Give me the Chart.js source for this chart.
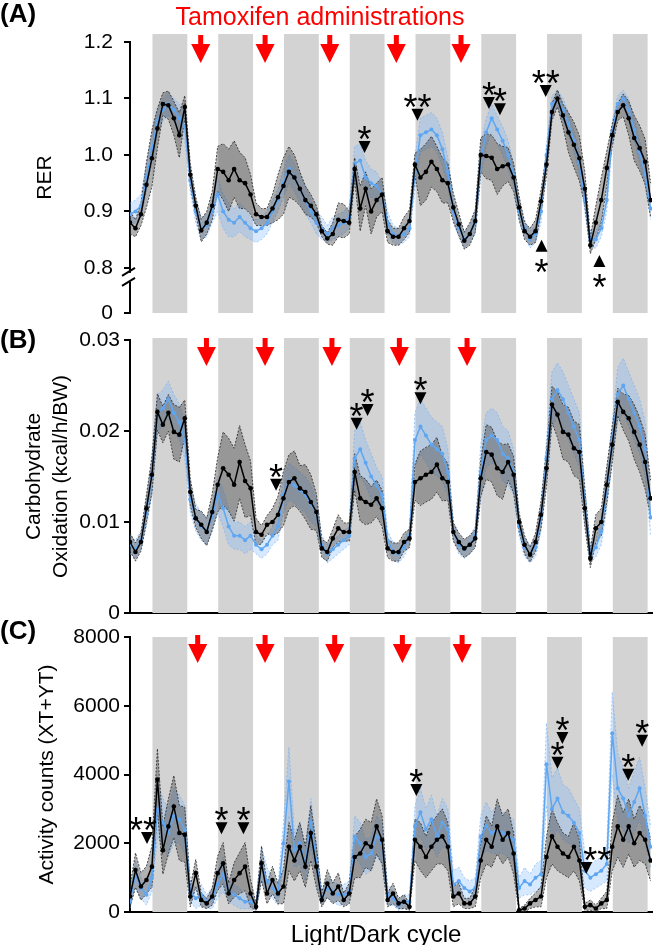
<!DOCTYPE html>
<html lang="en">

<head>
	<meta charset="UTF-8">
	<title>RER, carbohydrate oxidation and activity over light/dark cycles</title>
	<style>
		body {
			margin: 0;
			background: #fff;
		}

		.wrap {
			position: relative;
			width: 656px;
			height: 945px;
		}

		canvas {
			position: absolute;
			left: 0;
		}
	</style>
</head>

<body>
	<div class="wrap">
		<canvas id="chartA" width="656" height="341" style="top:0"></canvas>
		<canvas id="chartB" width="656" height="313" style="top:320px"></canvas>
		<canvas id="chartC" width="656" height="330" style="top:615px"></canvas>
	</div>
	<script src="https://cdn.jsdelivr.net/npm/chart.js"></script>
	<script>
		// time axis (hours from start of recording)
		const hours = [0, 2, 4, 6, 8, 10, 12, 14, 16, 18, 20, 22, 24, 26, 28, 30, 32, 34, 36, 38, 40, 42, 44, 46,
			48, 50, 52, 54, 56, 58, 60, 62, 64, 66, 68, 70, 72, 74, 76, 78, 80, 82, 84, 86, 88, 90, 92, 94,
			96, 98, 100, 102, 104, 106, 108, 110, 112, 114, 116, 118, 120, 122, 124, 126, 128, 130, 132, 134, 136, 138, 140, 142,
			144, 146, 148, 150, 152, 154, 156, 158, 160, 162, 164, 166, 168, 170, 172, 174, 176, 178, 180, 182, 184, 186, 188, 190];
		const darkStarts = [8.2, 32.2, 56.2, 80.2, 104.2, 128.2, 152.2, 176.2];
		const darkLength = 12.7;

		// (A) RER
		const rerBlack = [0.88, 0.87, 0.895, 0.947, 0.994, 1.047, 1.09, 1.088, 1.065, 1.035, 1.085, 0.965,
			0.91, 0.866, 0.88, 0.91, 0.975, 0.97, 0.955, 0.975, 0.955, 0.95, 0.93, 0.895,
			0.89, 0.89, 0.905, 0.925, 0.945, 0.97, 0.96, 0.94, 0.92, 0.91, 0.895, 0.865,
			0.852, 0.86, 0.885, 0.883, 0.88, 0.975, 0.905, 0.94, 0.9, 0.92, 0.93, 0.865,
			0.855, 0.855, 0.87, 0.883, 0.983, 0.96, 0.97, 0.988, 0.975, 0.955, 0.95, 0.907,
			0.877, 0.848, 0.86, 0.883, 1.0, 0.998, 0.995, 0.975, 0.98, 0.983, 0.96, 0.907,
			0.865, 0.855, 0.865, 0.918, 0.983, 1.076, 1.1, 1.07, 1.04, 1.018, 0.994, 0.94,
			0.84, 0.88, 0.92, 0.977, 1.035, 1.076, 1.088, 1.065, 1.03, 1.012, 0.988, 0.92];
		const rerBlackSem = [.02, .015, .02, .04, .05, .035, .02, .025, .03, .04, .02, .02,
			.015, .02, .02, .025, .04, .05, .055, .05, .05, .045, .035, .02,
			.015, .015, .025, .04, .05, .045, .04, .03, .025, .02, .015, .01,
			.01, .02, .03, .03, .02, .02, .04, .03, .04, .03, .03, .02,
			.015, .015, .02, .02, .02, .05, .05, .045, .04, .04, .035, .025,
			.02, .015, .02, .02, .03, .04, .04, .045, .035, .03, .025, .02,
			.015, .015, .02, .02, .02, .015, .015, .02, .035, .04, .04, .03,
			.015, .03, .04, .03, .02, .015, .02, .03, .04, .04, .04, .03];
		const rerBlue = [0.895, 0.9, 0.91, 0.96, 1.01, 1.06, 1.08, 1.09, 1.08, 1.065, 1.05, 0.955,
			0.9, 0.87, 0.875, 0.9, 0.93, 0.9, 0.885, 0.88, 0.89, 0.88, 0.87, 0.865,
			0.87, 0.88, 0.9, 0.92, 0.95, 0.975, 0.96, 0.94, 0.92, 0.9, 0.88, 0.87,
			0.86, 0.87, 0.875, 0.88, 0.89, 0.985, 0.99, 0.96, 0.95, 0.945, 0.93, 0.88,
			0.86, 0.855, 0.86, 0.87, 0.97, 1.035, 1.04, 1.045, 1.035, 1.01, 0.97, 0.9,
			0.87, 0.85, 0.86, 0.88, 0.99, 1.04, 1.065, 1.045, 1.025, 1.0, 0.965, 0.9,
			0.87, 0.85, 0.86, 0.9, 1.0, 1.09, 1.1, 1.08, 1.055, 1.025, 0.985, 0.92,
			0.85, 0.85, 0.87, 0.92, 1.04, 1.09, 1.1, 1.08, 1.045, 1.005, 0.965, 0.905];
		const rerBlueSem = [.02, .02, .02, .025, .025, .02, .02, .02, .02, .025, .025, .02,
			.02, .02, .02, .02, .03, .03, .03, .025, .025, .025, .02, .02,
			.02, .02, .02, .02, .025, .025, .025, .025, .025, .02, .02, .02,
			.015, .02, .02, .02, .02, .03, .03, .03, .025, .025, .02, .02,
			.015, .015, .015, .015, .03, .03, .03, .03, .03, .03, .025, .02,
			.015, .015, .015, .02, .03, .025, .025, .025, .025, .025, .02, .02,
			.015, .015, .015, .02, .02, .015, .015, .02, .02, .02, .02, .02,
			.015, .015, .015, .02, .02, .015, .015, .02, .02, .02, .02, .02];
		const rerTicks = [0.72, 0.8, 0.9, 1.0, 1.1, 1.2];

		// (B) carbohydrate oxidation
		const choBlack = [0.0078, 0.0067, 0.0078, 0.0115, 0.0152, 0.0221, 0.0207, 0.022, 0.0199, 0.0196, 0.0214, 0.0133,
			0.0104, 0.0097, 0.0089, 0.0111, 0.0141, 0.0159, 0.0152, 0.0141, 0.0166, 0.0145, 0.0137, 0.0089,
			0.0086, 0.0097, 0.01, 0.0108, 0.0126, 0.0144, 0.0148, 0.0137, 0.0133, 0.0122, 0.0111, 0.0071,
			0.0067, 0.0082, 0.0093, 0.0089, 0.0089, 0.0155, 0.0126, 0.0122, 0.0119, 0.0126, 0.0115, 0.0071,
			0.0067, 0.0067, 0.0078, 0.0082, 0.0144, 0.0148, 0.0152, 0.0155, 0.0163, 0.0148, 0.0144, 0.0089,
			0.0078, 0.0071, 0.0075, 0.0082, 0.0148, 0.0177, 0.0174, 0.0159, 0.0155, 0.0166, 0.0152, 0.01,
			0.0075, 0.0064, 0.0078, 0.0108, 0.0159, 0.0229, 0.0218, 0.0199, 0.0196, 0.0181, 0.0177, 0.0115,
			0.006, 0.0093, 0.01, 0.0141, 0.0185, 0.0232, 0.0221, 0.0214, 0.0199, 0.0185, 0.0166, 0.0126];
		const choBlackSem = [.001, .001, .001, .0015, .002, .002, .002, .002, .003, .003, .002, .0015,
			.001, .0015, .0015, .002, .003, .004, .004, .004, .004, .004, .003, .0015,
			.001, .001, .0015, .002, .003, .003, .003, .0025, .003, .003, .002, .001,
			.001, .001, .0015, .001, .001, .002, .0025, .0025, .002, .002, .002, .001,
			.001, .001, .001, .001, .002, .003, .003, .003, .003, .0025, .002, .001,
			.001, .001, .001, .001, .002, .003, .003, .003, .003, .002, .002, .001,
			.001, .0008, .001, .0015, .002, .002, .0025, .003, .003, .003, .003, .002,
			.001, .0015, .0015, .002, .002, .0015, .002, .0025, .003, .003, .003, .002];
		const choBlue = [0.0075, 0.007, 0.008, 0.011, 0.015, 0.022, 0.0225, 0.0235, 0.022, 0.021, 0.019, 0.0125,
			0.0105, 0.0095, 0.009, 0.0105, 0.013, 0.0115, 0.0095, 0.0085, 0.0085, 0.008, 0.0085, 0.0075,
			0.007, 0.0075, 0.0085, 0.0095, 0.013, 0.0145, 0.014, 0.0135, 0.013, 0.012, 0.011, 0.0075,
			0.0065, 0.007, 0.0075, 0.008, 0.0085, 0.017, 0.018, 0.0165, 0.015, 0.014, 0.013, 0.008,
			0.0068, 0.0065, 0.0072, 0.0085, 0.019, 0.0205, 0.0195, 0.0185, 0.018, 0.0175, 0.0155, 0.009,
			0.0075, 0.007, 0.0075, 0.0085, 0.0155, 0.019, 0.0195, 0.019, 0.0175, 0.017, 0.0155, 0.0095,
			0.0072, 0.0065, 0.0072, 0.0105, 0.017, 0.0235, 0.0245, 0.0235, 0.022, 0.0205, 0.019, 0.012,
			0.0065, 0.0072, 0.009, 0.0135, 0.019, 0.024, 0.025, 0.0235, 0.022, 0.0205, 0.018, 0.0105];
		const choBlueSem = [.001, .001, .001, .0015, .002, .002, .002, .002, .002, .002, .002, .0015,
			.0015, .0015, .0015, .0015, .002, .002, .002, .0015, .0015, .0015, .0015, .001,
			.001, .001, .001, .0015, .002, .002, .002, .002, .002, .002, .0015, .001,
			.001, .001, .001, .001, .001, .003, .003, .0025, .0025, .002, .002, .001,
			.001, .001, .001, .001, .003, .003, .003, .003, .003, .003, .0025, .001,
			.001, .001, .001, .001, .003, .003, .003, .003, .003, .003, .0025, .001,
			.001, .001, .001, .0015, .002, .003, .003, .003, .003, .003, .003, .002,
			.001, .001, .0015, .002, .002, .003, .003, .003, .003, .003, .003, .002];

		// (C) activity counts
		const actBlack = [450, 1220, 740, 930, 1320, 3850, 1800, 2490, 3070, 2300, 2250, 450,
			1130, 350, 250, 450, 1130, 1420, 540, 930, 1130, 1320, 540, 150,
			1420, 540, 930, 540, 740, 1900, 1500, 1900, 1320, 2300, 1320, 350,
			830, 540, 740, 350, 540, 1600, 1700, 2000, 1900, 2490, 2100, 350,
			540, 250, 300, 150, 2100, 1900, 1600, 1900, 2100, 2200, 1900, 450,
			540, 250, 250, 450, 1500, 2100, 1900, 2490, 2100, 2300, 1700, 50,
			100, 250, 350, 450, 1600, 2200, 1900, 1700, 1600, 1900, 1500, 150,
			200, 100, 250, 350, 1900, 2490, 2100, 2490, 2000, 2300, 2100, 1500];
		const actBlackSem = [300, 500, 400, 400, 600, 900, 700, 800, 900, 800, 800, 300,
			400, 200, 150, 250, 500, 600, 300, 500, 600, 700, 400, 100,
			500, 300, 400, 300, 500, 700, 600, 700, 600, 800, 600, 200,
			400, 300, 400, 200, 300, 600, 700, 700, 700, 800, 700, 200,
			300, 150, 200, 100, 600, 700, 600, 700, 700, 800, 700, 300,
			300, 150, 150, 300, 500, 700, 600, 800, 700, 700, 600, 50,
			100, 150, 200, 300, 600, 800, 700, 600, 600, 700, 600, 100,
			150, 100, 150, 250, 700, 900, 800, 800, 700, 800, 700, 600];
		const actBlue = [300, 1100, 700, 500, 1000, 3000, 2600, 2300, 2800, 2700, 2400, 600,
			400, 500, 300, 400, 800, 1100, 600, 500, 400, 300, 300, 200,
			1400, 900, 700, 500, 2000, 3800, 1800, 2000, 1400, 2600, 1500, 400,
			700, 600, 500, 500, 600, 2200, 2000, 1600, 1700, 2200, 2000, 500,
			400, 200, 300, 300, 2500, 2900, 2400, 2700, 2200, 2600, 2400, 800,
			900, 700, 600, 700, 2200, 2500, 2300, 2400, 2300, 2200, 2100, 700,
			900, 800, 1000, 1100, 4300, 3000, 3300, 2900, 2800, 2600, 2300, 1200,
			1000, 1100, 1200, 1400, 5200, 3600, 3300, 2800, 3200, 3600, 2800, 1900];
		const actBlueSem = [200, 400, 300, 300, 400, 800, 700, 700, 800, 700, 700, 300,
			300, 300, 200, 300, 400, 500, 300, 300, 300, 200, 200, 150,
			500, 400, 300, 300, 600, 1000, 500, 600, 500, 700, 500, 200,
			300, 300, 300, 300, 300, 600, 600, 500, 500, 600, 600, 300,
			200, 150, 200, 200, 600, 700, 600, 700, 600, 700, 600, 400,
			400, 300, 300, 300, 600, 700, 600, 700, 600, 600, 600, 300,
			400, 300, 400, 400, 1200, 900, 900, 800, 800, 700, 700, 500,
			400, 400, 400, 500, 1200, 1000, 900, 800, 900, 900, 800, 600];

		// tamoxifen arrows (hours) and significance marks (hour, value)
		const arrowsA = [25.8, 49.3, 72.9, 97.2, 120.8];
		const arrowsB = [27.9, 49.3, 73.7, 98.3, 123];
		const arrowsC = [24.7, 49.3, 74.7, 99.4, 121.2];
		const marksA = [
			{ h: 85.6, v: 1.014, dir: 'down', txt: '*' },
			{ h: 104.9, v: 1.071, dir: 'down', txt: '**' },
			{ h: 131.0, v: 1.092, dir: 'down', txt: '*' },
			{ h: 135.0, v: 1.081, dir: 'down', txt: '*' },
			{ h: 151.7, v: 1.113, dir: 'down', txt: '**' },
			{ h: 150.2, v: 0.839, dir: 'up', txt: '*' },
			{ h: 171.3, v: 0.812, dir: 'up', txt: '*' }
		];
		const marksB = [
			{ h: 53.3, v: 0.0141, dir: 'down', txt: '*' },
			{ h: 82.7, v: 0.0208, dir: 'down', txt: '*' },
			{ h: 86.7, v: 0.0223, dir: 'down', txt: '*' },
			{ h: 106.0, v: 0.0236, dir: 'down', txt: '*' }
		];
		const marksC = [
			{ h: 6.2, v: 2150, dir: 'down', txt: '**', shift: -4 },
			{ h: 33.4, v: 2440, dir: 'down', txt: '*' },
			{ h: 41.4, v: 2440, dir: 'down', txt: '*' },
			{ h: 104.5, v: 3550, dir: 'down', txt: '*' },
			{ h: 157.8, v: 5060, dir: 'down', txt: '*' },
			{ h: 156.0, v: 4340, dir: 'down', txt: '*' },
			{ h: 166.5, v: 1280, dir: 'down', txt: '**', shift: 11 },
			{ h: 181.8, v: 3990, dir: 'down', txt: '*' },
			{ h: 186.9, v: 4980, dir: 'down', txt: '*' }
		];

		const FONT = '"Liberation Sans", Arial, sans-serif';
		Chart.defaults.font.family = FONT;
		Chart.defaults.color = '#000';

		// per-canvas decoration settings (kept outside the chart options on purpose)
		const decorCfg = {
			chartA: { bandRise: 8, arrowTop: -7, arrows: arrowsA, marks: marksA, letter: '(A)', letterY: 15, heading: 'Tamoxifen administrations', breakAt: 0.784 },
			chartB: { bandRise: 2, arrowTop: -2, arrows: arrowsB, marks: marksB, letter: '(B)', letterY: 21 },
			chartC: { bandRise: 0, arrowTop: -2, arrows: arrowsC, marks: marksC, letter: '(C)', letterY: 17, xLabel: 'Light/Dark cycle' }
		};

		const decor = {
			id: 'decor',
			beforeDatasetsDraw(chart) {
				const o = decorCfg[chart.canvas.id];
				const { ctx, chartArea: a, scales: { x } } = chart;
				ctx.save();
				ctx.fillStyle = '#d3d3d3';
				darkStarts.forEach(s => {
					const x0 = x.getPixelForValue(s);
					const x1 = x.getPixelForValue(s + darkLength);
					ctx.fillRect(x0, a.top - o.bandRise, x1 - x0, a.bottom - a.top + o.bandRise);
				});
				ctx.restore();
			},
			afterDraw(chart) {
				const o = decorCfg[chart.canvas.id];
				const { ctx, chartArea: a, scales: { x, y } } = chart;
				ctx.save();

				if (o.breakAt) {
					const by = y.getPixelForValue(o.breakAt);
					ctx.fillStyle = '#fff';
					ctx.fillRect(a.left - 5, by - 4, 9, 9);
					ctx.strokeStyle = '#000';
					ctx.lineWidth = 2;
					ctx.beginPath();
					ctx.moveTo(a.left - 8, by - 1); ctx.lineTo(a.left + 5, by - 9);
					ctx.moveTo(a.left - 8, by + 9); ctx.lineTo(a.left + 5, by + 1);
					ctx.stroke();
				}

				ctx.fillStyle = '#ff0000';
				o.arrows.forEach(h => {
					const px = x.getPixelForValue(h);
					const t = a.top + o.arrowTop;
					ctx.fillRect(px - 2.5, t, 5, 10);
					ctx.beginPath();
					ctx.moveTo(px - 9.5, t + 9);
					ctx.lineTo(px + 9.5, t + 9);
					ctx.lineTo(px, t + 28);
					ctx.closePath();
					ctx.fill();
				});

				ctx.fillStyle = '#000';
				ctx.font = '36px ' + FONT;
				ctx.textAlign = 'center';
				ctx.textBaseline = 'alphabetic';
				o.marks.forEach(m => {
					const px = x.getPixelForValue(m.h);
					const py = y.getPixelForValue(m.v);
					ctx.beginPath();
					if (m.dir === 'down') {
						ctx.moveTo(px - 6, py - 6); ctx.lineTo(px + 6, py - 6); ctx.lineTo(px, py + 6);
					} else {
						ctx.moveTo(px - 6, py + 6); ctx.lineTo(px + 6, py + 6); ctx.lineTo(px, py - 6);
					}
					ctx.closePath();
					ctx.fill();
					// centre the asterisk glyph on the wanted point
					const mt = ctx.measureText(m.txt);
					const cy = m.dir === 'down' ? py - 14 : py + 20;
					const base = cy + (mt.actualBoundingBoxAscent - mt.actualBoundingBoxDescent) / 2;
					ctx.fillText(m.txt, px + (m.shift || 0), base);
				});

				ctx.textAlign = 'left';
				ctx.textBaseline = 'middle';
				ctx.font = 'bold 26px ' + FONT;
				ctx.fillText(o.letter, 0, o.letterY);

				if (o.heading) {
					ctx.fillStyle = '#ff0000';
					ctx.font = '25px ' + FONT;
					ctx.textAlign = 'center';
					ctx.fillText(o.heading, 320, 18);
				}
				if (o.xLabel) {
					ctx.fillStyle = '#000';
					ctx.font = '24px ' + FONT;
					ctx.textAlign = 'center';
					ctx.textBaseline = 'alphabetic';
					ctx.fillText(o.xLabel, 376, a.bottom + 30);
				}
				ctx.restore();
			}
		};

		function seriesSets(mean, sem, floor) {
			const pts = arr => arr.map((v, i) => ({ x: hours[i], y: v }));
			const up = mean.map((v, i) => v + sem[i]);
			const lo = mean.map((v, i) => Math.max(floor, v - sem[i]));
			return { mean: pts(mean), up: pts(up), lo: pts(lo) };
		}

		function makeChart(id, black, blue, yScale, pad, showX) {
			const edge = (data, color, dash, order, fillColor) => ({
				data, borderColor: color, borderWidth: 0.8, borderDash: dash, pointRadius: 0,
				fill: fillColor ? '+1' : false, backgroundColor: fillColor || 'transparent', order, tension: 0
			});
			const datasets = [
				edge(blue.up, 'rgba(110,170,240,0.75)', [2, 2], 5, 'rgba(110,175,250,0.28)'),
				edge(blue.lo, 'rgba(110,170,240,0.75)', [2, 2], 5),
				edge(black.up, '#222', [2, 1.5], 4, 'rgba(70,70,70,0.42)'),
				edge(black.lo, '#222', [2, 1.5], 4),
				{
					data: blue.mean, borderColor: '#5ea6f2', borderWidth: 1.5, pointRadius: 2,
					pointBackgroundColor: '#5ea6f2', pointBorderWidth: 0, order: 2, tension: 0, fill: false
				},
				{
					data: black.mean, borderColor: '#000', borderWidth: 1.5, pointRadius: 2.3,
					pointBackgroundColor: '#000', pointBorderWidth: 0, order: 1, tension: 0, fill: false
				}
			];
			return new Chart(document.getElementById(id), {
				type: 'line',
				data: { datasets },
				plugins: [decor],
				options: {
					responsive: false,
					animation: false,
					events: [],
					layout: { padding: pad },
					plugins: { legend: { display: false }, tooltip: { enabled: false } },
					scales: {
						x: {
							type: 'linear', min: 0, max: 190.5,
							display: showX,
							ticks: { display: false },
							grid: { display: false, drawTicks: false },
							border: { display: true, color: '#000', width: 2 },
							afterFit: s => { s.height = 0; }
						},
						y: Object.assign({
							type: 'linear',
							grid: { drawOnChartArea: false, drawTicks: true, tickLength: 6, color: '#000', lineWidth: 2 },
							border: { display: true, color: '#000', width: 2 },
							afterFit: s => { s.width = 130; }
						}, yScale)
					}
				}
			});
		}

		makeChart('chartA',
			seriesSets(rerBlack, rerBlackSem, 0), seriesSets(rerBlue, rerBlueSem, 0),
			{
				min: 0.72, max: 1.2,
				afterBuildTicks: s => { s.ticks = rerTicks.map(v => ({ value: v })); },
				ticks: { font: { size: 21 }, padding: 11, callback: v => v < 0.75 ? '0' : v.toFixed(1) },
				title: { display: true, text: 'RER', font: { size: 21 }, padding: { top: 33, bottom: 0 } }
			},
			{ top: 42, right: 1, bottom: 28, left: 0 }, false);

		makeChart('chartB',
			seriesSets(choBlack, choBlackSem, 0), seriesSets(choBlue, choBlueSem, 0),
			{
				min: 0, max: 0.03,
				ticks: { font: { size: 21 }, padding: 4, stepSize: 0.01, callback: v => v === 0 ? '0' : v.toFixed(2) },
				title: {
					display: true, text: ['Carbohydrate', 'Oxidation (kcal/h/BW)'],
					font: { size: 21, lineHeight: 1.29 }, padding: { top: 21, bottom: 0 }
				}
			},
			{ top: 20, right: 1, bottom: 20, left: 0 }, true);

		makeChart('chartC',
			seriesSets(actBlack, actBlackSem, 0), seriesSets(actBlue, actBlueSem, 0),
			{
				min: 0, max: 8000,
				ticks: { font: { size: 21 }, padding: 4, stepSize: 2000, callback: v => String(v) },
				title: { display: true, text: 'Activity counts (XT+YT)', font: { size: 21 }, padding: { top: 35, bottom: 0 } }
			},
			{ top: 22, right: 1, bottom: 33, left: 0 }, true);
	</script>
</body>

</html>
